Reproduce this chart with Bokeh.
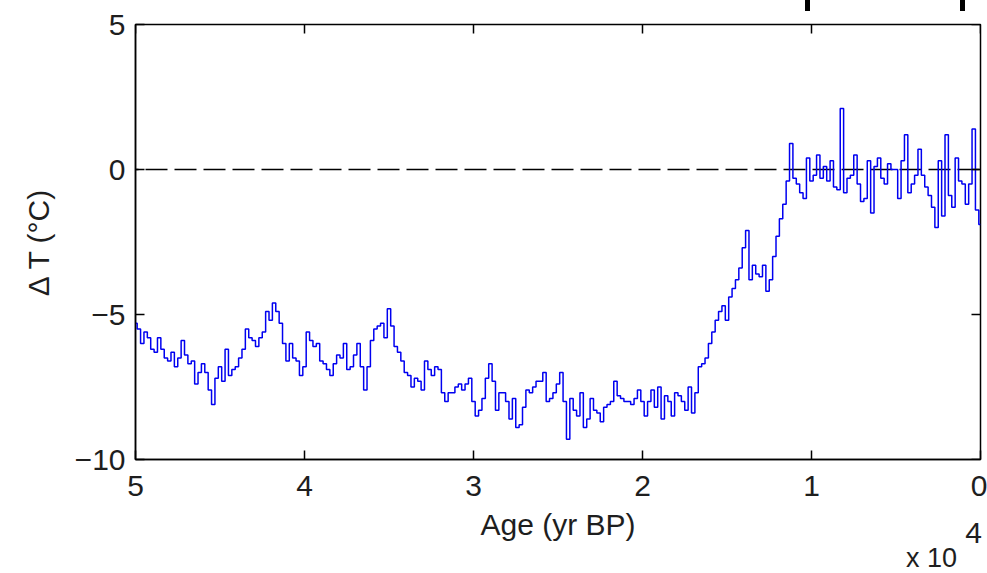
from bokeh.plotting import figure
from bokeh.models import Range1d, FixedTicker, Label, ColumnDataSource
from bokeh.embed import file_html
from bokeh.resources import INLINE

# ---- data ----
age_start = 50000   # yr BP, first sample
age_step = 200      # yr between samples
delta_t = [
    -5.3, -5.5, -6.0, -5.6, -5.8, -6.2, -6.3, -5.8, -6.2, -6.5,
    -6.6, -6.3, -6.8, -6.5, -5.9, -6.4, -6.7, -6.6, -7.4, -7.0,
    -6.7, -7.0, -7.6, -8.1, -7.2, -6.8, -7.3, -6.2, -7.1, -6.9,
    -6.8, -6.5, -6.2, -5.5, -5.8, -5.9, -6.1, -5.8, -5.6, -4.9,
    -5.2, -4.6, -4.9, -5.3, -6.0, -6.6, -6.0, -6.5, -6.6, -7.1,
    -6.8, -5.6, -5.9, -6.1, -6.0, -6.6, -6.7, -6.9, -7.1, -6.7,
    -6.4, -6.5, -6.0, -6.9, -6.8, -6.4, -6.0, -6.8, -7.6, -6.8,
    -5.9, -5.5, -5.4, -5.3, -5.8, -4.8, -5.4, -6.1, -6.3, -6.6,
    -7.0, -7.1, -7.5, -7.2, -7.3, -7.6, -6.6, -6.9, -7.1, -6.8,
    -6.9, -7.7, -8.0, -7.7, -7.7, -7.5, -7.4, -7.6, -7.4, -7.2,
    -8.0, -8.5, -8.3, -7.9, -7.2, -6.7, -7.3, -8.3, -7.7, -7.7,
    -8.0, -8.6, -7.9, -8.9, -8.8, -8.2, -7.6, -7.7, -7.5, -7.3,
    -7.3, -7.0, -8.0, -7.9, -7.7, -7.4, -7.0, -8.0, -9.3, -7.9,
    -8.3, -8.5, -7.7, -8.9, -8.6, -7.9, -8.3, -8.4, -8.7, -8.2,
    -8.1, -8.0, -7.3, -7.8, -7.9, -8.0, -8.0, -8.1, -7.9, -7.6,
    -8.0, -8.5, -8.0, -7.6, -8.2, -7.5, -8.6, -7.8, -8.0, -8.5,
    -7.7, -7.8, -8.0, -8.3, -7.5, -8.4, -7.7, -6.8, -6.7, -6.5,
    -6.0, -5.6, -5.2, -4.9, -4.7, -5.2, -4.4, -4.1, -3.8, -3.4,
    -2.7, -2.1, -3.8, -3.3, -3.6, -3.7, -3.3, -4.2, -3.8, -3.0,
    -2.3, -1.7, -1.2, -0.4, 0.9, -0.3, -0.5, -0.8, -1.0, 0.4,
    -0.4, -0.2, 0.5, -0.3, 0.1, -0.4, 0.3, -0.6, -0.7, 2.1,
    -0.8, -0.3, -0.2, 0.5, -0.5, -1.1, -1.0, 0.3, -1.5, 0.1,
    0.4, -0.3, -0.5, 0.2, 0.0, 0.0, -1.0, 0.3, 1.2, -0.8,
    -0.5, -0.2, 0.7, -0.2, -0.6, -0.9, -1.3, -2.0, 0.3, -1.6,
    1.2, -0.9, -1.3, 0.4, -0.4, -0.5, -1.2, -0.5, 1.4, -1.4,
    -1.9,
]
ages = [age_start - i * age_step for i in range(len(delta_t))]
x_scale = 1e4
x_ticks = [0, 1, 2, 3, 4, 5]
y_ticks = [-10, -5, 0, 5]
y_tick_labels = {-10: "\u221210", -5: "\u22125", 0: "0", 5: "5"}
x_title = "Age (yr BP)"
y_title = "\u0394 T (\u00b0C)"
x_exp_base = "x 10"
x_exp_power = "4"

FONT = "Liberation Sans"
FS = "30px"
TXT = "#1e1e1e"

W, H = 987, 573
BL, BR, BT, BB = 135, 7, 24, 114
X0, X1, Y0, Y1 = 5, 0, -10, 5

p = figure(width=W, height=H, output_backend="svg", toolbar_location=None,
           x_range=Range1d(X0, X1), y_range=Range1d(Y0, Y1),
           min_border_left=BL, min_border_right=BR, min_border_top=BT,
           min_border_bottom=BB,
           background_fill_color="white", border_fill_color="white")
p.grid.visible = False
p.outline_line_color = "black"
p.outline_line_width = 1.5

# zero reference line
p.line(x=[X0, X1], y=[0, 0], line_color="black", line_width=1.5,
       line_dash="22 7", line_dash_offset=19)

src = ColumnDataSource(dict(x=[a / x_scale for a in ages], y=delta_t))
p.step("x", "y", source=src, mode="center", line_color="#0000f0", line_width=1.5)

for ax in (p.xaxis[0], p.yaxis[0]):
    ax.axis_line_color = "black"
    ax.axis_line_width = 1.5
    ax.major_tick_line_color = "black"
    ax.major_tick_line_width = 1.5
    ax.major_tick_in = 9
    ax.major_tick_out = 0
    ax.minor_tick_line_color = None
    ax.major_label_text_font = FONT
    ax.major_label_text_font_size = FS
    ax.major_label_text_color = TXT
    ax.axis_label_text_font = FONT
    ax.axis_label_text_font_size = FS
    ax.axis_label_text_font_style = "normal"
    ax.axis_label_text_color = TXT

xa = p.xaxis[0]
ya = p.yaxis[0]
xa.ticker = FixedTicker(ticks=x_ticks)
ya.ticker = FixedTicker(ticks=y_ticks)
ya.major_label_overrides = y_tick_labels
xa.axis_label = x_title
ya.axis_label = y_title
xa.major_label_standoff = 16
xa.axis_label_standoff = 9
ya.major_label_standoff = 10
ya.axis_label_standoff = 17

# inward ticks on the top and right edges of the box (as in a boxed plot)
tick_px = 9
dy = tick_px * (Y1 - Y0) / (H - BT - BB)
dx = tick_px * (X0 - X1) / (W - BL - BR)
p.segment(x0=x_ticks, y0=[Y1] * len(x_ticks), x1=x_ticks, y1=[Y1 - dy] * len(x_ticks),
          line_color="black", line_width=1.5)
p.segment(x0=[X1] * len(y_ticks), y0=y_ticks, x1=[X1 + dx] * len(y_ticks), y1=y_ticks,
          line_color="black", line_width=1.5)

# exponent note "x 10^4" below the right end of the x axis.  The labels sit in
# side panels (where there is spare room) so that they are not clipped to the
# plot frame; their positions are given in canvas pixels.
p.add_layout(Label(x=931, y=557, x_units="canvas", y_units="canvas", text=x_exp_base,
                   text_align="center", text_baseline="middle", text_font=FONT,
                   text_font_size="27px", text_color=TXT), "below")
p.add_layout(Label(x=973, y=532, x_units="canvas", y_units="canvas", text=x_exp_power,
                   text_align="center", text_baseline="middle", text_font=FONT,
                   text_font_size=FS, text_color=TXT), "left")

# two dark marks at the top edge of the picture
for bx in (807, 962):
    p.add_layout(Label(x=bx, y=5, x_units="canvas", y_units="canvas", text="\u2002",
                       text_align="center", text_baseline="middle", text_font=FONT,
                       text_font_size="10px", background_fill_color="black",
                       background_fill_alpha=1.0), "above")

open("out.html", "w").write(file_html(p, INLINE))
